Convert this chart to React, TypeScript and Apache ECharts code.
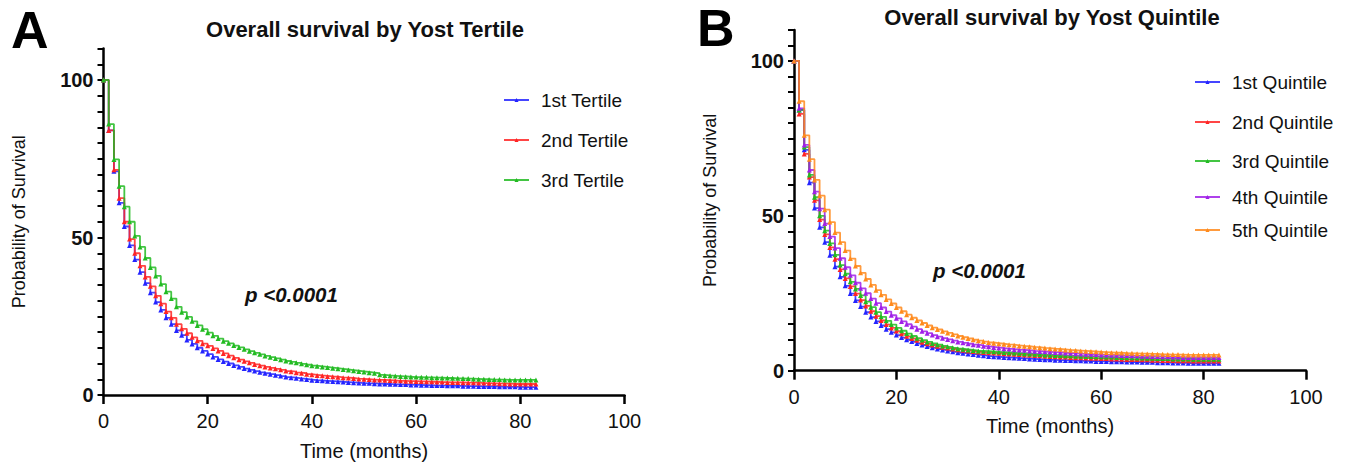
import React, { useEffect, useRef } from "react";
import * as echarts from "echarts";

// ---------- data ----------
const MONTHS = [0,1,2,3,4,5,6,7,8,9,10,11,12,13,14,15,16,17,18,19,20,21,22,23,24,25,26,27,28,29,30,31,32,33,34,35,36,37,38,39,40,41,42,43,44,45,46,47,48,49,50,51,52,53,54,55,56,57,58,59,60,61,62,63,64,65,66,67,68,69,70,71,72,73,74,75,76,77,78,79,80,81,82,83];

const TERTILE_NAMES = ["1st Tertile", "2nd Tertile", "3rd Tertile"];
const QUINTILE_NAMES = ["1st Quintile", "2nd Quintile", "3rd Quintile", "4th Quintile", "5th Quintile"];

// Panel A
const T1 = [100,84,71,61,53.5,47.5,43,39,35.5,32.5,29.5,27,24.5,22.5,20.5,19,17.5,16.2,15,14,13,12.1,11.3,10.6,10,9.4,8.9,8.4,8,7.6,7.2,6.9,6.6,6.3,6,5.7,5.5,5.3,5.1,4.9,4.7,4.6,4.5,4.4,4.3,4.2,4.1,4,3.9,3.8,3.7,3.7,3.6,3.5,3.5,3.4,3.4,3.3,3.3,3.2,3.2,3.1,3.1,3.0,3.0,3.0,2.9,2.9,2.9,2.8,2.8,2.8,2.7,2.7,2.7,2.7,2.6,2.6,2.6,2.6,2.5,2.5,2.5,2.5];
const T2 = [100,84,71.5,62.5,55,49.5,45,41,37.5,34.5,31.5,29,26.5,24.5,22.5,21,19.6,18.3,17.2,16.3,15.6,14.8,14,13.2,12.5,11.8,11.2,10.7,10.2,9.7,9.3,8.9,8.6,8.3,8,7.6,7.4,7.1,6.9,6.6,6.4,6.2,6.1,5.9,5.8,5.6,5.5,5.4,5.2,5.1,5.0,4.9,4.8,4.8,4.7,4.6,4.5,4.5,4.4,4.4,4.3,4.3,4.2,4.2,4.1,4.1,4.0,4.0,4.0,3.9,3.9,3.9,3.8,3.8,3.7,3.7,3.6,3.6,3.5,3.5,3.5,3.5,3.5,3.5];
const T3 = [100,86,74.8,66.3,59.8,55,50.5,47,43.5,40.5,37.8,35.2,32.8,30.6,28,26.3,24.8,23.4,22.1,20.9,19.8,18.8,17.9,17.1,16.4,15.7,15.1,14.5,13.9,13.4,12.9,12.4,12,11.6,11.2,10.8,10.5,10.2,9.9,9.6,9.3,9.1,8.9,8.7,8.5,8.3,8.1,7.9,7.7,7.5,7.3,7.1,6.9,6.4,6.2,6.1,6.0,5.9,5.8,5.7,5.7,5.6,5.6,5.5,5.5,5.4,5.4,5.3,5.3,5.2,5.2,5.1,5.0,5.0,4.9,4.9,4.9,4.8,4.8,4.8,4.8,4.8,4.8,4.8];

// Panel B
const Q1 = [100,84.2,71.3,60.7,52.5,46.3,41.5,37.3,33.6,30.3,27.4,24.9,22.7,20.7,18.9,17.3,15.9,14.6,13.4,12.4,11.5,10.7,10,9.4,8.8,8.3,7.8,7.4,7.0,6.7,6.4,6.1,5.8,5.6,5.4,5.2,5.0,4.8,4.6,4.5,4.4,4.3,4.2,4.1,4.0,3.9,3.8,3.7,3.6,3.5,3.5,3.4,3.4,3.3,3.3,3.2,3.2,3.1,3.1,3.0,3.0,3.0,2.9,2.9,2.9,2.8,2.8,2.8,2.7,2.7,2.7,2.6,2.6,2.6,2.5,2.5,2.5,2.4,2.4,2.4,2.4,2.4,2.4,2.4];
const Q2 = [100,82.9,70,62.5,55,48.8,44,39.8,36,32.7,29.8,27.2,24.9,22.8,20.9,19.2,17.6,16.2,14.9,13.8,12.8,11.9,11.1,10.4,9.8,9.2,8.7,8.3,7.9,7.6,7.3,7.0,6.8,6.6,6.4,6.2,6.0,5.9,5.8,5.7,5.6,5.5,5.4,5.3,5.2,5.1,5.0,4.9,4.8,4.7,4.6,4.5,4.4,4.4,4.3,4.2,4.2,4.1,4.0,4.0,3.9,3.9,3.8,3.8,3.7,3.6,3.6,3.6,3.5,3.5,3.4,3.4,3.3,3.3,3.3,3.2,3.2,3.2,3.1,3.1,3.1,3.1,3.1,3.1];
const Q3 = [100,84.2,72.2,63.2,56,50,45.2,41.1,37.4,34.1,31.3,28.7,26.4,24.3,22.3,20.5,18.9,17.4,16.1,14.9,13.8,12.9,12.0,11.2,10.5,9.9,9.3,8.8,8.4,8.0,7.7,7.4,7.1,6.9,6.7,6.5,6.4,6.3,6.2,6.1,6.0,5.9,5.8,5.7,5.6,5.5,5.4,5.3,5.2,5.1,5.0,4.9,4.9,4.8,4.8,4.7,4.7,4.6,4.6,4.5,4.5,4.4,4.4,4.3,4.3,4.2,4.2,4.1,4.1,4.0,4.0,3.9,3.9,3.9,3.8,3.8,3.8,3.8,3.7,3.7,3.7,3.7,3.7,3.7];
const Q4 = [100,84.7,72.9,64.8,57.8,52.3,47.5,43.3,39.6,36.3,33.4,30.8,28.4,26.6,25,23.3,21.8,20.4,19.1,17.9,16.9,15.9,15,14.2,13.4,12.7,12.1,11.5,11,10.5,10.1,9.7,9.3,9.0,8.7,8.4,8.2,7.9,7.7,7.5,7.3,7.1,7.0,6.8,6.7,6.6,6.4,6.3,6.2,6.1,6.0,5.9,5.8,5.7,5.6,5.5,5.4,5.3,5.3,5.2,5.1,5.1,5.0,5.0,4.9,4.9,4.8,4.8,4.7,4.7,4.6,4.6,4.5,4.5,4.4,4.4,4.3,4.3,4.3,4.3,4.3,4.3,4.3,4.3];
const Q5 = [100,87,76,68.3,61.6,56.5,52,48,44.6,41.5,38.8,36.2,33.8,31.6,29.6,27.7,26.0,24.5,23.0,21.7,20.4,19.2,18.1,17.1,16.2,15.4,14.6,13.9,13.3,12.7,12.2,11.7,11.2,10.8,10.4,10.0,9.7,9.4,9.1,8.9,8.7,8.5,8.4,8.2,8.0,7.9,7.7,7.6,7.4,7.3,7.1,7.0,6.9,6.7,6.6,6.5,6.4,6.3,6.2,6.1,6.0,5.9,5.8,5.8,5.7,5.6,5.6,5.5,5.5,5.4,5.4,5.3,5.3,5.2,5.2,5.2,5.1,5.1,5.1,5.1,5.1,5.1,5.1,5.1];

const X_TICKS = [0, 20, 40, 60, 80, 100];
const Y_LABELS = [0, 50, 100];

// ---------- styles ----------
const FONT = "Liberation Sans, Arial, sans-serif";
const COLORS_A = ["#2424ff", "#ff2424", "#22bb22"];
const COLORS_B = ["#2424ff", "#ff2424", "#22bb22", "#a020e8", "#ff8a1c"];
const LEGEND_A = { left: 503, rows: [100, 140, 180] };
const LEGEND_B = { left: 1194, rows: [82, 122, 161, 197, 230] };

export default function App() {
  const ref = useRef<HTMLDivElement>(null);

  useEffect(() => {
    if (!ref.current) return;
    const chart = echarts.init(ref.current, undefined, { renderer: "svg" });

    const xAxisBase = (gridIndex: number) => ({
      type: "value",
      gridIndex,
      min: X_TICKS[0],
      max: X_TICKS[X_TICKS.length - 1],
      interval: 20,
      name: "Time (months)",
      nameLocation: "middle",
      nameGap: gridIndex === 0 ? 46 : 45,
      nameTextStyle: { fontFamily: FONT, fontSize: 20, color: "#111" },
      axisLine: { onZero: false, lineStyle: { color: "#000", width: 2.5 } },
      axisTick: { show: true, inside: false, length: 9, lineStyle: { color: "#000", width: 2.5 } },
      axisLabel: { fontFamily: FONT, fontSize: 20, color: "#111", margin: 16 },
      splitLine: { show: false },
    });
    const yAxisBase = (gridIndex: number) => ({
      type: "value",
      gridIndex,
      min: 0,
      max: 110,
      interval: 5,
      name: "Probability of Survival",
      nameLocation: "middle",
      nameGap: gridIndex === 0 ? 76 : 75,
      nameTextStyle: { fontFamily: FONT, fontSize: 18, color: "#111" },
      axisLine: { show: true, onZero: false, lineStyle: { color: "#000", width: 2.5 } },
      axisTick: { show: true, inside: false, length: 6, lineStyle: { color: "#000", width: 2 } },
      axisLabel: {
        fontFamily: FONT,
        fontSize: 20,
        fontWeight: "bold",
        color: "#111",
        margin: 10,
        formatter: (v: number) => (Y_LABELS.includes(v) ? String(v) : ""),
      },
      splitLine: { show: false },
    });

    const mkSeries = (name: string, vals: number[], color: string, idx: number) => ({
      name,
      type: "line",
      step: "end",
      xAxisIndex: idx,
      yAxisIndex: idx,
      data: MONTHS.map((m, i) => [m, vals[i]]),
      symbol: "triangle",
      symbolSize: 5,
      showAllSymbol: true,
      color,
      lineStyle: { color, width: 1.8, opacity: 0.85 },
      itemStyle: { color },
      emphasis: { disabled: true },
    });

    const seriesA = [T1, T2, T3].map((d, i) => mkSeries(TERTILE_NAMES[i], d, COLORS_A[i], 0));
    const seriesB = [Q1, Q2, Q3, Q4, Q5].map((d, i) => mkSeries(QUINTILE_NAMES[i], d, COLORS_B[i], 1));

    const legendItem = (name: string, left: number, y: number) => ({
      data: [name],
      left,
      top: y - 10,
      padding: 0,
      itemWidth: 25,
      itemHeight: 5,
      selectedMode: false,
      textStyle: { fontFamily: FONT, fontSize: 19, color: "#111", lineHeight: 20, padding: [0, 0, 0, 7] },
    });

    const legends = [
      ...TERTILE_NAMES.map((n, i) => legendItem(n, LEGEND_A.left, LEGEND_A.rows[i])),
      ...QUINTILE_NAMES.map((n, i) => legendItem(n, LEGEND_B.left, LEGEND_B.rows[i])),
    ];

    chart.setOption({
      animation: false,
      backgroundColor: "#fff",
      title: [
        {
          text: "Overall survival by Yost Tertile",
          left: 365,
          top: 18,
          textAlign: "center",
          padding: 0,
          textStyle: { fontFamily: FONT, fontSize: 22, fontWeight: "bold", color: "#111" },
        },
        {
          text: "Overall survival by Yost Quintile",
          left: 1052,
          top: 6,
          textAlign: "center",
          padding: 0,
          textStyle: { fontFamily: FONT, fontSize: 22, fontWeight: "bold", color: "#111" },
        },
      ],
      grid: [
        { left: 103.5, top: 48.5, width: 521, height: 346.5 },
        { left: 794, top: 30, width: 512, height: 340.7 },
      ],
      xAxis: [xAxisBase(0), xAxisBase(1)],
      yAxis: [yAxisBase(0), yAxisBase(1)],
      legend: legends,
      series: [...seriesA, ...seriesB],
      graphic: [
        { type: "text", left: 11, top: 3.5, style: { text: "A", font: `bold 52px ${FONT}`, lineHeight: 40, fill: "#000" } },
        { type: "text", left: 697, top: 1.5, style: { text: "B", font: `bold 52px ${FONT}`, lineHeight: 40, fill: "#000" } },
        { type: "text", left: 245, top: 284, style: { text: "p <0.0001", font: `italic bold 20.5px ${FONT}`, fill: "#111" } },
        { type: "text", left: 933, top: 260, style: { text: "p <0.0001", font: `italic bold 20.5px ${FONT}`, fill: "#111" } },
      ],
    });

    return () => chart.dispose();
  }, []);

  return (
    <div
      ref={ref}
      style={{ position: "fixed", left: 0, top: 0, width: 1351, height: 466, background: "#fff" }}
    />
  );
}
